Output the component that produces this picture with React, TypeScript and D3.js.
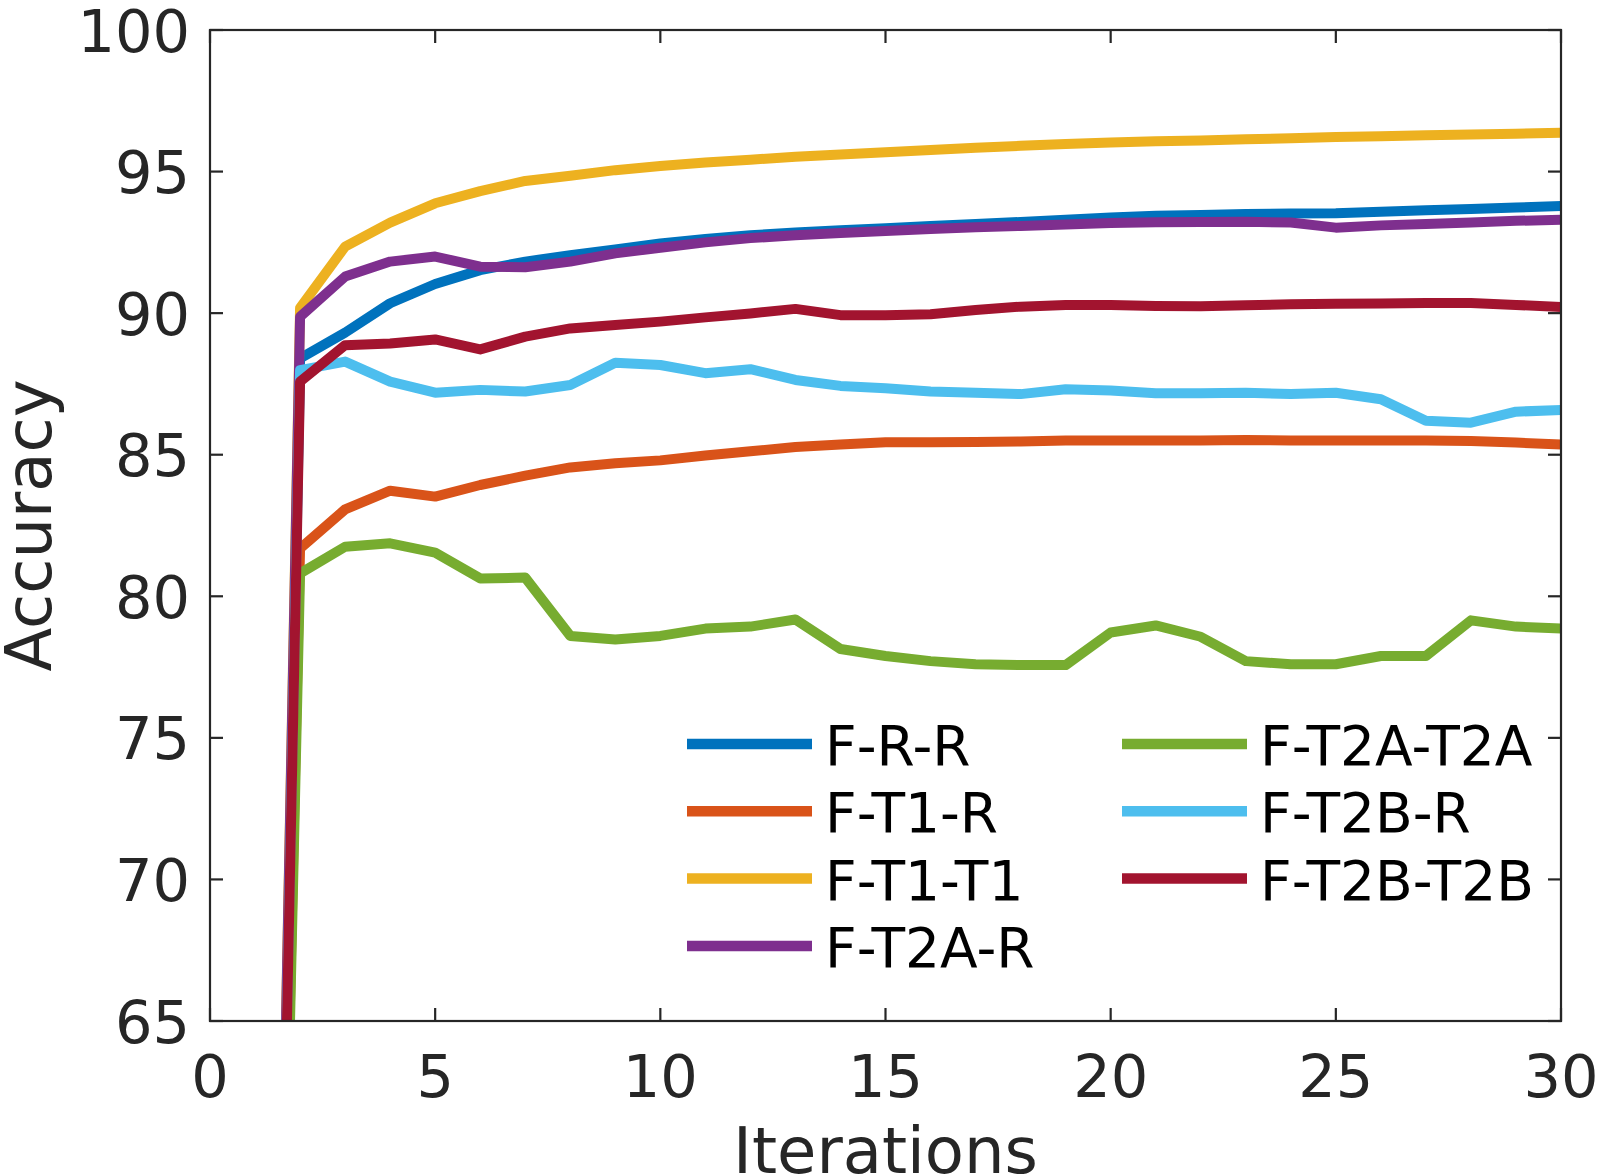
import * as d3 from "d3";

// x values (training iterations)
const iterations = [
  1, 2, 3, 4, 5, 6, 7, 8, 9, 10, 11, 12, 13, 14, 15,
  16, 17, 18, 19, 20, 21, 22, 23, 24, 25, 26, 27, 28, 29, 30,
];

const fRR = [10, 88.4, 89.31, 90.35, 91.03, 91.52, 91.82, 92.05, 92.25, 92.46, 92.62, 92.75, 92.85, 92.93, 93.0, 93.08, 93.15, 93.22, 93.3, 93.38, 93.44, 93.47, 93.5, 93.52, 93.53, 93.58, 93.63, 93.68, 93.73, 93.78];
const fT1R = [10, 81.69, 83.07, 83.73, 83.52, 83.93, 84.26, 84.55, 84.7, 84.8, 84.97, 85.12, 85.27, 85.36, 85.44, 85.44, 85.45, 85.47, 85.5, 85.5, 85.5, 85.5, 85.52, 85.5, 85.5, 85.5, 85.5, 85.48, 85.43, 85.36];
const fT1T1 = [10, 90.18, 92.35, 93.2, 93.88, 94.31, 94.67, 94.85, 95.05, 95.2, 95.32, 95.42, 95.52, 95.6, 95.68, 95.76, 95.84, 95.91, 95.97, 96.03, 96.07, 96.1, 96.14, 96.18, 96.22, 96.25, 96.28, 96.31, 96.34, 96.37];
const fT2AR = [10, 89.87, 91.29, 91.82, 92.0, 91.64, 91.62, 91.82, 92.11, 92.31, 92.5, 92.65, 92.75, 92.83, 92.9, 92.97, 93.03, 93.08, 93.13, 93.18, 93.21, 93.22, 93.23, 93.2, 93.02, 93.1, 93.15, 93.2, 93.26, 93.3];
const fT2AT2A = [10, 80.81, 81.75, 81.87, 81.54, 80.63, 80.66, 78.6, 78.47, 78.6, 78.86, 78.93, 79.18, 78.14, 77.89, 77.71, 77.6, 77.57, 77.57, 78.72, 78.97, 78.57, 77.71, 77.6, 77.6, 77.89, 77.89, 79.15, 78.93, 78.86];
const fT2BR = [10, 87.99, 88.29, 87.58, 87.19, 87.29, 87.23, 87.46, 88.25, 88.17, 87.88, 88.02, 87.64, 87.43, 87.35, 87.23, 87.19, 87.14, 87.31, 87.27, 87.17, 87.17, 87.19, 87.14, 87.19, 86.96, 86.2, 86.13, 86.52, 86.58];
const fT2BT2B = [10, 87.58, 88.87, 88.93, 89.07, 88.72, 89.17, 89.46, 89.58, 89.7, 89.85, 89.99, 90.15, 89.93, 89.93, 89.96, 90.11, 90.23, 90.29, 90.29, 90.25, 90.24, 90.28, 90.31, 90.33, 90.34, 90.36, 90.36, 90.29, 90.22];

const seriesNames = ["F-R-R", "F-T1-R", "F-T1-T1", "F-T2A-R", "F-T2A-T2A", "F-T2B-R", "F-T2B-T2B"];
const seriesValues = [fRR, fT1R, fT1T1, fT2AR, fT2AT2A, fT2BR, fT2BT2B];
const seriesColors = ["#0072BD", "#D95319", "#EDB120", "#7E2F8E", "#77AC30", "#4DBEEE", "#A2142F"];

const xTicks = [0, 5, 10, 15, 20, 25, 30];
const yTicks = [65, 70, 75, 80, 85, 90, 95, 100];

const W = 1599;
const H = 1176;
const plot = { left: 210, right: 1561, top: 30, bottom: 1021 };
const axisColor = "#262626";
const font = "'DejaVu Sans', sans-serif";

export default function App() {
  const x = d3.scaleLinear().domain([0, 30]).range([plot.left, plot.right]);
  const y = d3.scaleLinear().domain([65, 100]).range([plot.bottom, plot.top]);

  const line = d3
    .line<number>()
    .x((_, i) => x(iterations[i]))
    .y((d) => y(d));

  const tickLen = 13;

  // legend: 4 rows in the left column, 3 in the right
  const legendRowY = (r: number) => 744 + r * 67.3;
  const legendCols = [
    { x0: 687, x1: 812, tx: 825 },
    { x0: 1122, x1: 1247, tx: 1260 },
  ];

  return (
    <svg
      width={W}
      height={H}
      style={{ position: "absolute", left: 0, top: 0, background: "#fff" }}
      fontFamily={font}
    >
      <defs>
        <clipPath id="plotClip">
          <rect x={plot.left} y={plot.top} width={plot.right - plot.left} height={plot.bottom - plot.top} />
        </clipPath>
      </defs>
      <rect width={W} height={H} fill="#fff" />

      {/* data lines */}
      <g clipPath="url(#plotClip)">
        {seriesValues.map((vals, si) => (
          <path
            key={seriesNames[si]}
            d={line(vals) ?? ""}
            fill="none"
            stroke={seriesColors[si]}
            strokeWidth={10}
            strokeLinejoin="round"
          />
        ))}
      </g>

      {/* axes box */}
      <rect
        x={plot.left}
        y={plot.top}
        width={plot.right - plot.left}
        height={plot.bottom - plot.top}
        fill="none"
        stroke={axisColor}
        strokeWidth={2.2}
      />

      {/* x ticks */}
      {xTicks.map((t) => (
        <g key={"x" + t}>
          <line x1={x(t)} x2={x(t)} y1={plot.bottom} y2={plot.bottom - tickLen} stroke={axisColor} strokeWidth={2.2} />
          <line x1={x(t)} x2={x(t)} y1={plot.top} y2={plot.top + tickLen} stroke={axisColor} strokeWidth={2.2} />
          <text x={x(t)} y={1096.5} textAnchor="middle" fontSize={59} fill={axisColor}>
            {t}
          </text>
        </g>
      ))}

      {/* y ticks */}
      {yTicks.map((t) => (
        <g key={"y" + t}>
          <line x1={plot.left} x2={plot.left + tickLen} y1={y(t)} y2={y(t)} stroke={axisColor} strokeWidth={2.2} />
          <line x1={plot.right} x2={plot.right - tickLen} y1={y(t)} y2={y(t)} stroke={axisColor} strokeWidth={2.2} />
          <text x={190} y={y(t) + 21.5} textAnchor="end" fontSize={59} fill={axisColor}>
            {t}
          </text>
        </g>
      ))}

      {/* axis titles */}
      <text x={(plot.left + plot.right) / 2} y={1173} textAnchor="middle" fontSize={64} fill={axisColor}>
        Iterations
      </text>
      <text
        transform={`translate(51,${(plot.top + plot.bottom) / 2}) rotate(-90)`}
        textAnchor="middle"
        fontSize={64}
        fill={axisColor}
      >
        Accuracy
      </text>

      {/* legend */}
      {seriesNames.map((name, i) => {
        const col = legendCols[i < 4 ? 0 : 1];
        const cy = legendRowY(i < 4 ? i : i - 4);
        return (
          <g key={"lg" + name}>
            <line x1={col.x0} x2={col.x1} y1={cy} y2={cy} stroke={seriesColors[i]} strokeWidth={10.5} />
            <text x={col.tx} y={cy + 21} fontSize={55} fill="#000">
              {name}
            </text>
          </g>
        );
      })}
    </svg>
  );
}
